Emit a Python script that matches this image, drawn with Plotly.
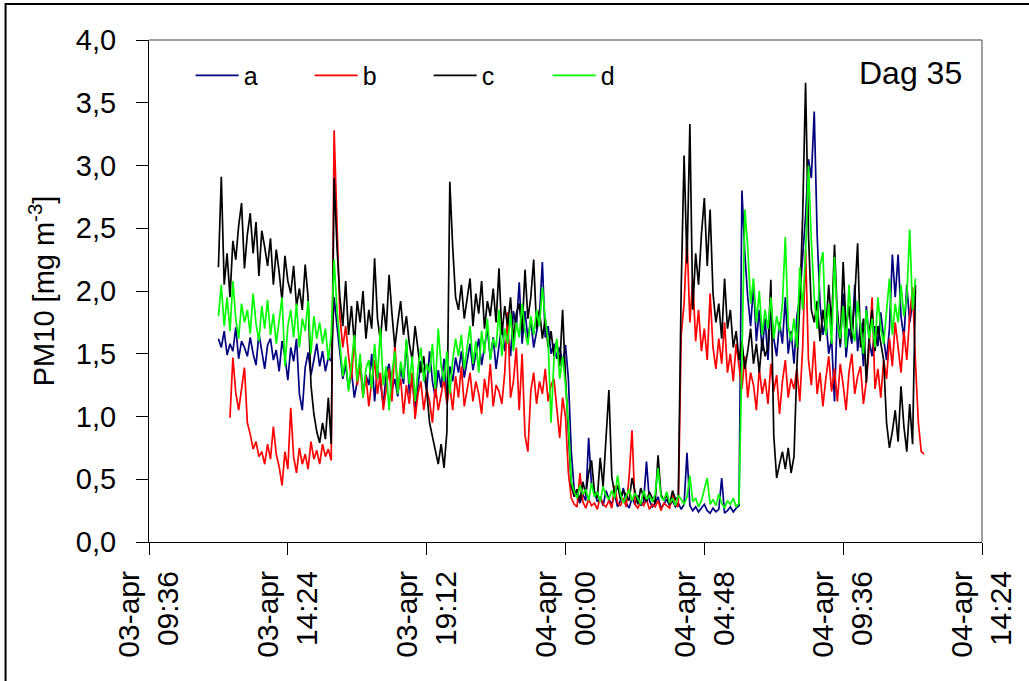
import plotly.graph_objects as go

# PM10 measurements, day 35 (values in mg/m3), logged every 6 minutes
# time axis in hours counted from 03-apr 00:00
dt_h = 0.1
start_acd = 12.0
start_b = 12.4

a = [
    1.62, 1.55, 1.68, 1.49, 1.58, 1.52, 1.71, 1.46, 1.60, 1.55,
    1.48, 1.63, 1.50, 1.41, 1.66, 1.52, 1.38, 1.57, 1.62, 1.45,
    1.53, 1.36, 1.60, 1.48, 1.29, 1.55, 1.44, 1.62, 1.18, 1.05,
    1.39, 1.51, 1.33, 1.45, 1.58, 1.40, 1.52, 1.36, 1.47, 1.44,
    1.95,
    1.72, 1.48, 1.30, 1.41, 1.22, 1.36, 1.15, 1.28, 1.45, 1.19,
    1.33, 1.25, 1.50, 1.12, 1.38, 1.27, 1.09, 1.34, 1.42, 1.21,
    1.30, 1.16, 1.39, 1.26, 1.60, 1.18, 1.31, 1.05, 1.24, 1.44,
    1.35, 1.20, 1.52, 1.28, 1.15, 1.37, 1.23, 1.46, 1.13,
    1.40, 1.28, 1.47, 1.35, 1.52, 1.31, 1.44, 1.58, 1.37, 1.49,
    1.62, 1.41, 1.55, 1.70, 1.46, 1.63, 1.38, 1.57, 1.74, 1.52,
    1.66, 1.48, 1.84, 1.71, 2.07, 1.58, 1.84, 1.62, 1.77, 1.55,
    1.69, 1.80, 2.23, 1.63, 1.72, 1.50, 1.58, 1.46, 1.55, 1.42,
    1.57,
    1.30, 0.72, 0.42, 0.36, 0.31, 0.38, 0.33, 0.83, 0.45, 0.40,
    0.32, 0.36, 0.29, 0.41, 0.34, 0.30, 0.38, 0.28, 0.33, 0.43,
    0.31, 0.27, 0.35, 0.30, 0.37, 0.29, 0.32, 0.64, 0.33, 0.28,
    0.31, 0.36, 0.27, 0.30, 0.34, 0.29, 0.33, 0.28, 0.31, 0.26,
    0.30, 0.71, 0.29, 0.25, 0.28, 0.24, 0.27, 0.30, 0.25, 0.23,
    0.27, 0.24, 0.26, 0.51, 0.23, 0.25, 0.28, 0.24, 0.27, 0.29,
    2.80, 2.30, 1.95, 1.72, 2.05, 1.60, 1.85, 1.52, 1.78, 1.45,
    1.90, 1.62, 1.48, 1.75, 1.58, 1.95, 1.50, 1.68, 1.42, 1.80,
    1.95, 2.30, 2.60, 3.05, 2.90, 3.43, 2.45, 1.90, 1.65, 1.78,
    1.50, 1.62, 1.12, 1.85, 1.55, 1.98, 1.47, 1.70, 1.58, 2.05,
    1.52, 1.75, 1.40, 1.88, 1.60, 1.48, 1.72, 1.56, 1.83, 1.62,
    1.45, 1.70, 2.29, 1.95, 2.29, 1.80, 1.62, 2.05, 1.75, 1.90, 2.00,
]

b = [
    0.99, 1.47, 1.19, 1.05, 1.22, 1.39, 0.95, 0.86, 0.74, 0.80,
    0.68, 0.72, 0.62, 0.78, 0.66, 0.92, 0.70, 0.60, 0.45, 0.72,
    0.58, 1.07, 0.68, 0.55, 0.75, 0.62, 0.70, 0.58, 0.80, 0.66,
    0.73, 0.62, 0.78, 0.68, 0.74, 0.65,
    3.28, 2.55, 1.80,
    1.55, 1.72, 1.48, 1.30, 1.62, 1.25, 1.40, 1.15, 1.32, 1.08,
    1.28, 1.45, 1.18, 1.35, 1.05, 1.22, 1.38, 1.12, 1.58, 1.20,
    1.30, 1.02, 1.25, 1.10, 1.35, 0.98, 1.18, 1.28, 1.05, 1.22,
    1.12, 0.95, 1.25, 1.05, 1.18, 1.30,
    1.10, 1.25, 1.05, 1.32, 1.15, 1.40, 1.08, 1.22, 1.35, 1.12,
    1.28, 1.18, 1.02, 1.30, 1.15, 1.42, 1.08, 1.25, 1.20, 1.10,
    1.35, 1.83, 1.15, 1.28, 1.55, 1.05, 1.50, 0.85, 0.72, 1.20,
    1.35, 1.10, 1.28, 1.18, 1.38, 1.12, 1.25, 1.30, 1.05, 0.83,
    1.15, 1.00,
    0.55, 0.35, 0.30, 0.28, 0.55, 0.32, 0.27, 0.34, 0.29, 0.31,
    0.26, 0.36, 0.30, 0.28, 0.33, 0.27, 0.45, 0.31, 0.29, 0.35,
    0.28, 0.52, 0.89, 0.30, 0.27, 0.32, 0.29, 0.34, 0.26, 0.30,
    0.28, 0.33, 0.25, 0.31, 0.29, 0.27, 0.38, 0.30, 0.28,
    1.65, 1.90, 2.43, 1.75, 2.10, 1.60, 1.85, 1.52, 1.70, 1.45,
    1.98, 1.55, 1.38, 1.62, 1.42, 1.75, 1.35, 1.50, 1.28, 1.58,
    1.40, 1.22, 1.48, 1.15, 1.35, 1.25, 1.05, 1.38, 1.18, 1.30,
    1.10, 1.42, 1.20, 1.33, 1.02, 1.28, 1.45, 1.15, 1.30, 1.22,
    1.38, 1.12, 1.55, 2.33, 1.45, 1.25, 1.60, 1.18, 1.35, 1.08,
    1.30, 1.48, 1.20, 1.38, 1.12, 1.42, 1.25, 1.05, 1.35, 1.50,
    1.18, 1.32, 1.40, 1.10, 1.28, 1.55, 1.95, 1.22, 1.38, 1.15,
    1.45, 1.30, 1.62, 1.40, 1.75, 1.52, 1.35, 1.68, 1.45, 1.80,
    2.03, 1.43, 0.95, 0.72, 0.70,
]

c = [
    2.19, 2.91, 2.05, 2.30, 1.95, 2.40, 2.25, 2.52, 2.70, 2.18,
    2.45, 2.62, 2.30, 2.55, 2.12, 2.48, 2.35, 2.20, 2.42, 2.05,
    2.33, 2.15, 1.92, 2.28, 2.08, 1.98, 2.20, 1.88, 2.02, 1.85,
    2.21, 1.95,
    1.25, 1.02, 0.88, 0.79, 0.95, 0.82, 1.15, 0.78,
    2.90, 2.35,
    1.95, 1.72, 2.08, 1.65, 1.88, 1.58, 1.92, 1.75, 2.00, 1.62,
    1.85, 1.70, 2.26, 1.78, 1.60, 1.90, 1.68, 2.13, 1.82, 1.55,
    1.75, 1.92, 1.65, 1.80, 1.58, 1.45, 1.72, 1.52, 1.35, 1.48,
    1.20,
    0.95, 0.84, 0.72, 0.62, 0.78, 0.59, 0.88,
    2.87, 2.35, 1.95,
    1.85, 2.05, 1.78, 1.95, 2.10, 1.72, 1.98, 1.82, 2.08, 1.70,
    1.92, 1.80, 2.02, 1.75, 2.18, 1.65, 1.88, 1.72, 1.95, 1.60,
    1.82, 1.90, 1.68, 2.17, 1.78, 1.95, 2.25, 1.70, 1.85, 1.62,
    1.78, 1.55, 1.68, 1.48, 1.60, 1.40, 1.85, 1.31,
    0.85, 0.45, 0.36, 0.42, 0.33, 0.48, 0.38, 0.55, 0.65, 0.40,
    0.35, 0.67, 0.44, 0.81, 1.21, 0.52, 0.38, 0.45, 0.34, 0.41,
    0.37, 0.33, 0.51, 0.39, 0.30, 0.43, 0.36, 0.32, 0.40, 0.35,
    0.31, 0.69, 0.38, 0.33, 0.37, 0.30, 0.41, 0.34, 0.36,
    2.02, 3.08, 2.22, 3.33, 1.85, 2.30, 2.05, 2.45, 2.74, 2.20,
    2.65, 1.98, 1.75, 1.90, 1.62, 2.10, 1.70, 1.85, 1.55, 1.68,
    1.45, 1.60, 1.38, 1.52, 1.70, 1.42, 1.58, 1.35, 1.62, 1.48,
    1.55, 2.09,
    0.85, 0.51, 0.62, 0.72, 0.58, 0.75, 0.55, 0.68,
    1.40, 1.90, 2.60, 3.66, 2.45, 1.85,
    1.75, 1.92, 1.60, 1.85, 1.68, 2.05, 1.72, 2.37, 1.80, 1.58,
    2.23, 1.70, 1.88, 1.62, 1.95, 2.38, 1.55, 1.78, 1.27, 1.65,
    1.85, 1.52, 1.72, 1.60, 1.45,
    0.95, 0.75, 0.88, 1.05, 0.80, 1.24, 0.92, 0.72, 1.10, 0.78,
    2.05,
]

d = [
    1.80, 2.05, 1.72, 1.95, 1.68, 2.08, 1.78, 1.62, 1.90, 1.75,
    1.85, 1.66, 1.98, 1.74, 1.60, 1.88, 1.70, 1.93, 1.65, 1.82,
    1.58, 1.76, 1.95, 1.40, 1.72, 1.85, 1.63, 1.90, 1.55, 1.78,
    1.68, 1.92, 1.50, 1.80, 1.62, 1.75, 1.58, 1.70, 1.45, 1.65,
    2.25, 1.85,
    1.55, 1.32, 1.48, 1.20, 1.42, 1.65, 1.28, 1.50, 1.15, 1.38,
    1.45, 1.22, 1.58, 1.30, 1.70, 1.25, 1.40, 1.05, 1.35, 1.52,
    1.18, 1.44, 1.30, 1.62, 1.26, 1.48, 1.12, 1.38, 1.55, 1.28,
    1.42,
    1.35, 1.58, 1.22, 1.70, 1.40, 1.28, 1.52, 1.18, 1.45, 1.62,
    1.48, 1.65, 1.38, 1.55, 1.72, 1.42, 1.60, 1.35, 1.68, 1.50,
    1.78, 1.45, 1.62, 1.55, 1.85, 1.48, 1.70, 1.58, 1.82, 1.52,
    1.75, 1.63, 1.90, 1.68, 1.57, 1.80, 1.65, 1.85, 1.72, 2.03,
    1.78, 1.60, 0.95, 1.45, 1.62, 1.30, 1.48, 1.25,
    0.95, 0.48, 0.40, 0.35, 0.45, 0.38, 0.42, 0.33, 0.47, 0.36,
    0.40, 0.32, 0.44, 0.37, 0.34, 0.41, 0.35, 0.53, 0.38, 0.31,
    0.36, 0.42, 0.33, 0.39, 0.35, 0.30, 0.41, 0.34, 0.37, 0.32,
    0.38, 0.59, 0.36, 0.33, 0.40, 0.31, 0.35, 0.29, 0.37, 0.34,
    0.30, 0.36, 0.53, 0.32, 0.35, 0.28, 0.33, 0.42, 0.51, 0.30,
    0.34, 0.29, 0.38, 0.31, 0.27, 0.33, 0.30, 0.35, 0.28, 0.31,
    1.60, 2.65, 2.35, 1.90, 2.10, 1.75, 2.00, 1.65, 1.85, 1.70,
    1.95, 1.62, 1.80, 1.68, 1.90, 2.43, 1.72, 1.60, 1.78, 1.55,
    2.19, 1.85, 2.30, 3.00, 2.40, 1.95, 1.70, 2.20, 2.31, 1.65,
    1.90, 1.58, 2.27, 1.75, 1.62, 1.88, 1.55, 2.05, 1.70, 1.60,
    1.92, 1.68, 1.50, 1.85, 1.62, 1.78, 1.55, 1.95, 1.70, 1.58,
    1.82, 2.10, 1.65, 1.90, 1.75, 2.05, 1.80, 1.95, 2.49, 1.85, 2.10,
]

series_names = ["a", "b", "c", "d"]
series_colors = ["#000080", "#FF0000", "#000000", "#00FF00"]

tick_hours = [9.6, 14.4, 19.2, 24.0, 28.8, 33.6, 38.4]
tick_labels = ["03-apr<br>09:36", "03-apr<br>14:24", "03-apr<br>19:12",
               "04-apr<br>00:00", "04-apr<br>04:48", "04-apr<br>09:36",
               "04-apr<br>14:24"]

def times(start, n):
    return [round(start + dt_h * k, 2) for k in range(n)]

font = "Liberation Sans, Arial, sans-serif"

fig = go.Figure()
for name, vals, start, col in zip(series_names, [a, b, c, d],
                                  [start_acd, start_b, start_acd, start_acd],
                                  series_colors):
    fig.add_trace(go.Scatter(x=times(start, len(vals)), y=vals, mode="lines",
                             name=name, line=dict(color=col, width=1.7)))

fig.update_layout(
    width=1029, height=681,
    margin=dict(l=149, r=40, t=40, b=139),
    paper_bgcolor="white", plot_bgcolor="white",
    separators=",.",
    font=dict(family=font, color="black"),
    showlegend=True,
    legend=dict(orientation="h", x=0.05, y=0.975, xanchor="left", yanchor="top",
                font=dict(size=25), bgcolor="rgba(0,0,0,0)",
                entrywidth=61, entrywidthmode="pixels", itemwidth=43),
    xaxis=dict(range=[9.6, 38.4], tickvals=tick_hours, ticktext=tick_labels,
               tickangle=-90, ticks="outside", ticklen=12, tickcolor="black",
               showline=True, linecolor="black", linewidth=1,
               showgrid=False, zeroline=False,
               tickfont=dict(size=30), ticklabelstandoff=4),
    yaxis=dict(range=[0, 4.0], dtick=0.5, tick0=0, tickformat=".1f",
               ticks="outside", ticklen=12, tickcolor="black",
               showline=True, linecolor="black", linewidth=1,
               showgrid=False, zeroline=False,
               tickfont=dict(size=29), ticklabelstandoff=14,
               title=dict(text="PM10 [mg m<sup>-3</sup>]", font=dict(size=29),
                          standoff=12)),
    annotations=[dict(text="Dag 35", x=0.978, y=0.935, xref="paper", yref="paper",
                      xanchor="right", yanchor="middle", showarrow=False,
                      font=dict(size=32))],
    shapes=[
        dict(type="line", xref="paper", yref="paper", x0=0, x1=1, y0=1, y1=1,
             line=dict(color="#808080", width=1.5)),
        dict(type="line", xref="paper", yref="paper", x0=1, x1=1, y0=0, y1=1,
             line=dict(color="#808080", width=1.5)),
        dict(type="rect", xref="paper", yref="paper", x0=-0.1722, x1=1.1,
             y0=-0.4, y1=1.0717, line=dict(color="black", width=2)),
    ],
)

fig.write_html("out.html", config={"displayModeBar": False},
               post_script="document.body.style.margin='0px';")
